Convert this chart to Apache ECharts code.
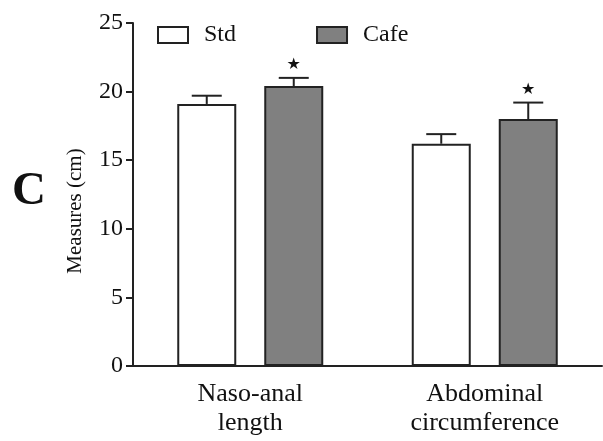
<!DOCTYPE html>
<html>
<head>
<meta charset="utf-8">
<script src="https://cdn.jsdelivr.net/npm/echarts@6/dist/echarts.min.js"></script>
<style>
  html, body { margin: 0; padding: 0; background: #fff; }
  #chart { width: 603px; height: 441px; }
</style>
</head>
<body>
<div id="chart"></div>
<script>
const categories = ["Naso-anal\nlength", "Abdominal\ncircumference"];
const stdMean = [19.1, 16.2];
const stdErr = [0.6, 0.7];
const cafeMean = [20.4, 18.0];
const cafeErr = [0.6, 1.2];
const cafeSignificant = [true, true];
const yTicks = [0, 5, 10, 15, 20, 25];

const serif = "Liberation Serif";
const ink = "#222";
const barWidth = 59;
const barGap = 28;

// error bar (upper only) + optional star, drawn per bar
function errorBarSeries(name, means, errs, side, stars) {
  return {
    name: name + " err",
    type: "custom",
    silent: true,
    z: 5,
    data: means.map((m, i) => [i, m, m + errs[i], stars && stars[i] ? 1 : 0]),
    renderItem: function (params, api) {
      const off = side * (barWidth + barGap) / 2;
      const base = api.coord([api.value(0), api.value(1)]);
      const top = api.coord([api.value(0), api.value(2)]);
      const x = base[0] + off;
      const children = [
        { type: "line", shape: { x1: x, y1: base[1], x2: x, y2: top[1] },
          style: { stroke: ink, lineWidth: 2 } },
        { type: "line", shape: { x1: x - 15, y1: top[1], x2: x + 15, y2: top[1] },
          style: { stroke: ink, lineWidth: 2 } }
      ];
      if (api.value(3)) {
        children.push({
          type: "text",
          style: { text: "★", x: x, y: top[1] - 13, align: "center", verticalAlign: "middle",
                   font: "16px DejaVu Sans", fill: "#111" }
        });
      }
      return { type: "group", children: children };
    }
  };
}

const chart = echarts.init(document.getElementById("chart"));
chart.setOption({
  animation: false,
  grid: { left: 133, right: 1, top: 23, bottom: 75 },
  legend: {
    left: 152,
    top: 18,
    itemWidth: 30,
    itemHeight: 16,
    itemGap: 80,
    icon: "rect",
    textStyle: { fontFamily: serif, fontSize: 24, color: "#111", padding: [0, 0, 0, 11] },
    data: ["Std", "Cafe"]
  },
  graphic: [
    { type: "text", left: 12, top: 168,
      style: { text: "C", font: "bold 47px Liberation Serif", fill: "#111" } },
    { type: "text", x: 75, y: 211, rotation: Math.PI / 2,
      style: { text: "Measures (cm)", font: "21px Liberation Serif", fill: "#111",
               align: "center", verticalAlign: "middle" } }
  ],
  xAxis: {
    type: "category",
    data: categories,
    axisLine: { lineStyle: { color: ink, width: 2 } },
    axisTick: { alignWithLabel: true, length: 7, lineStyle: { color: ink, width: 2 } },
    axisLabel: { fontFamily: serif, fontSize: 26, color: "#111", lineHeight: 29, margin: 14 }
  },
  yAxis: {
    type: "value",
    min: yTicks[0],
    max: yTicks[yTicks.length - 1],
    interval: 5,
    splitLine: { show: false },
    axisLine: { show: true, lineStyle: { color: ink, width: 2 } },
    axisTick: { show: true, length: 7, lineStyle: { color: ink, width: 2 } },
    axisLabel: { fontFamily: serif, fontSize: 24, color: "#111", margin: 10 }
  },
  series: [
    {
      name: "Std",
      type: "bar",
      data: stdMean,
      barWidth: barWidth,
      barGap: (barGap / barWidth * 100) + "%",
      itemStyle: { color: "#fff", borderColor: ink, borderWidth: 2 }
    },
    {
      name: "Cafe",
      type: "bar",
      data: cafeMean,
      barWidth: barWidth,
      itemStyle: { color: "#808080", borderColor: ink, borderWidth: 2 }
    },
    errorBarSeries("Std", stdMean, stdErr, -1, null),
    errorBarSeries("Cafe", cafeMean, cafeErr, 1, cafeSignificant)
  ]
});
</script>
</body>
</html>
